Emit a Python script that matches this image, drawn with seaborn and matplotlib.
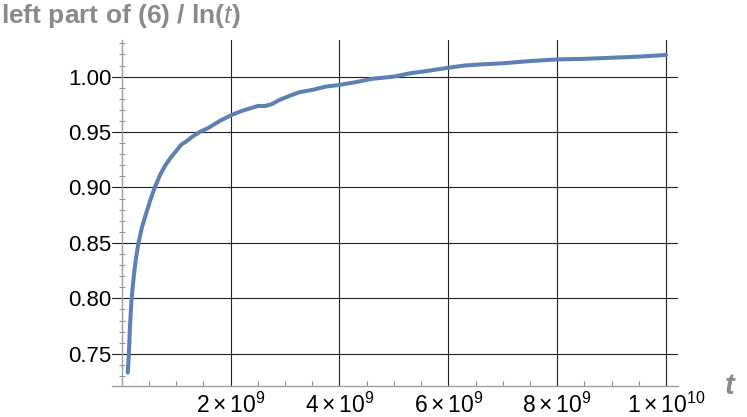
import matplotlib
matplotlib.use('Agg')
import matplotlib.pyplot as plt
import seaborn as sns
import numpy as np
import pandas as pd
from matplotlib.ticker import FixedLocator, MultipleLocator

# values (t in units of 1e9)
t_billions = [0.11, 0.13, 0.15, 0.18, 0.22, 0.26, 0.31, 0.37, 0.45, 0.52, 0.59,
              0.70, 0.80, 0.90, 1.00, 1.10, 1.20, 1.30, 1.43, 1.60, 1.80, 2.00,
              2.20, 2.40, 2.50, 2.63, 2.75, 2.90, 3.10, 3.27, 3.50, 3.75, 4.00,
              4.30, 4.60, 5.00, 5.30, 5.60, 6.00, 6.30, 6.60, 7.00, 7.50, 8.00,
              8.50, 9.00, 9.50, 10.00]
ratio = [0.733, 0.750, 0.775, 0.800, 0.820, 0.836, 0.851, 0.864, 0.877, 0.888, 0.898,
         0.911, 0.920, 0.927, 0.933, 0.939, 0.942, 0.946, 0.950, 0.954, 0.960, 0.965,
         0.969, 0.972, 0.9735, 0.9735, 0.975, 0.979, 0.983, 0.986, 0.988, 0.991, 0.9925,
         0.995, 0.998, 1.000, 1.003, 1.005, 1.008, 1.010, 1.011, 1.012, 1.014, 1.0155,
         1.016, 1.017, 1.018, 1.0195]

x_major = [2e9, 4e9, 6e9, 8e9, 1e10]
x_labels = [r'$\mathregular{2\times10^{9}}$', r'$\mathregular{4\times10^{9}}$',
            r'$\mathregular{6\times10^{9}}$', r'$\mathregular{8\times10^{9}}$',
            r'$\mathregular{1\times10^{10}}$']
y_major = [0.75, 0.80, 0.85, 0.90, 0.95, 1.00]
y_labels = ['0.75', '0.80', '0.85', '0.90', '0.95', '1.00']

sns.set_style('white')
plt.rcParams['font.family'] = ['Liberation Sans', 'DejaVu Sans']
plt.rcParams['mathtext.fontset'] = 'custom'
plt.rcParams['mathtext.rm'] = 'Liberation Sans'
plt.rcParams['mathtext.it'] = 'Liberation Sans:italic'
plt.rcParams['mathtext.bf'] = 'Liberation Sans:bold'

fig = plt.figure(figsize=(7.47, 4.17), dpi=100)
ax = fig.add_axes([112 / 747, 31 / 417, 566 / 747, 346 / 417])

df = pd.DataFrame({'t': np.array(t_billions) * 1e9, 'ratio': ratio})
sns.lineplot(data=df, x='t', y='ratio', ax=ax, color='#5E81B5', lw=2.9, zorder=3)

ax.set_xlim(-0.18e9, 10.22e9)
ax.set_ylim(0.721, 1.033)

ax.xaxis.set_major_locator(FixedLocator(x_major))
ax.set_xticklabels(x_labels)
ax.xaxis.set_minor_locator(MultipleLocator(0.5e9))
ax.yaxis.set_major_locator(FixedLocator(y_major))
ax.set_yticklabels(y_labels)
ax.yaxis.set_minor_locator(MultipleLocator(0.01))

ax.grid(True, which='major', color='#222222', lw=0.8)
ax.set_axisbelow(True)

for s in ['top', 'right']:
    ax.spines[s].set_visible(False)
ax.spines['left'].set_position(('data', 0))
ax.spines['left'].set_color('#a0a0a0')
ax.spines['bottom'].set_color('#a0a0a0')
ax.spines['left'].set_linewidth(1.0)
ax.spines['bottom'].set_linewidth(1.0)

ax.tick_params(axis='y', which='major', length=0, pad=7.5, labelsize=16, colors='black')
ax.tick_params(axis='y', which='minor', direction='inout', length=4, width=0.8,
               color='#909090', left=True)
ax.tick_params(axis='x', which='major', length=0, pad=5, labelsize=16.5, colors='black')
ax.tick_params(axis='x', which='minor', direction='in', length=3.5, width=0.8,
               color='#909090', bottom=True)

ax.set_xlabel('')
ax.set_ylabel('')

fig.text(0.002, 0.995, r'left part of (6) / ln($\mathbf{\mathit{t}}$)', ha='left', va='top',
         fontsize=19, fontweight='bold', color='#8a8a8a')
fig.text(0.977, 0.075, 't', ha='center', va='center', fontsize=21,
         fontweight='bold', fontstyle='italic', color='#8a8a8a')

fig.savefig('out.png', dpi=100)
